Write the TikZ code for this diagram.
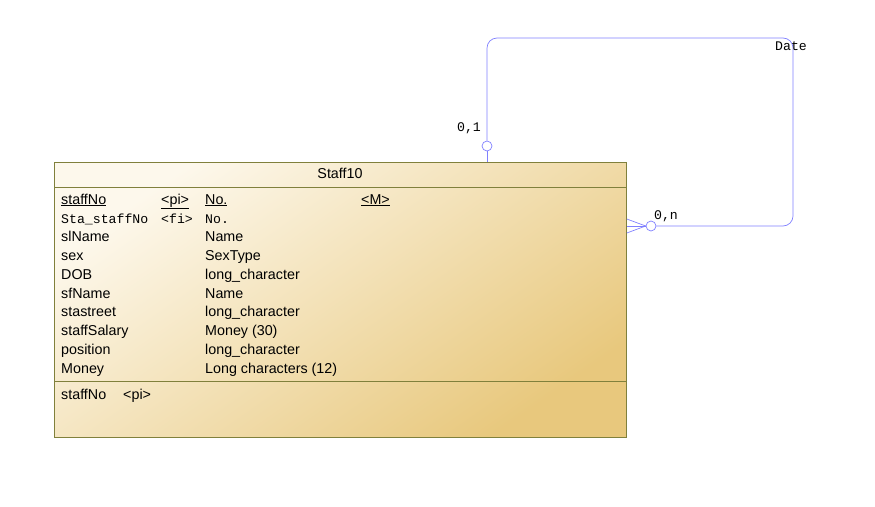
\documentclass[tikz,border=0pt]{standalone}
\usepackage{fontspec}
\setmainfont{Liberation Sans}
\newfontfamily\monofont{Liberation Mono}
\usepackage{xcolor}
\usepackage{tikz}
\usetikzlibrary{positioning,calc}
\definecolor{entityline}{RGB}{128,128,60}
\definecolor{entitylight}{RGB}{253,248,236}
\definecolor{entitydark}{RGB}{232,200,125}
\definecolor{relblue}{RGB}{128,128,255}
\tikzset{
  entitybox/.style={rectangle, draw=entityline, line width=0.8pt,
                    top color=entitylight, bottom color=entitydark, shading angle=35,
                    anchor=north west, inner sep=0pt},
  sepline/.style={draw=entityline, line width=0.8pt},
  attrtext/.style={anchor=west, inner sep=0pt, text height=10pt, text depth=0pt,
                   font=\fontsize{14.3}{16}\selectfont},
  monotext/.style={attrtext, font=\monofont\fontsize{13.2}{16}\selectfont},
  cardtext/.style={inner sep=0pt, font=\monofont\fontsize{13.2}{16}\selectfont},
  relline/.style={draw=relblue, line width=0.7pt},
  optcircle/.style={circle, draw=relblue, line width=0.7pt, fill=white,
                    minimum size=10pt, inner sep=0pt},
}
\begin{document}
\begin{tikzpicture}[x=1pt,y=-1pt]
  \useasboundingbox (0,0) rectangle (875,506);

  % ---- entity ----
  \node[entitybox, minimum width=572pt, minimum height=275pt] (staff10) at (54,162) {};
  \node[attrtext, anchor=center] (title) at (340,173) {Staff10};
  \draw[sepline] ([yshift=-25pt]staff10.north west) -- ([yshift=-25pt]staff10.north east);
  \draw[sepline] ([yshift=56pt]staff10.south west) -- ([yshift=56pt]staff10.south east);

  % ---- attributes ----
  \node[attrtext] (attr0) at (61,199) {\underline{staffNo}};
  \node[attrtext] (key0) at (161,199) {\underline{<pi>}};
  \node[attrtext] (type0) at (205,199) {\underline{No.}};
  \node[attrtext] (mand0) at (361,199) {\underline{<M>}};
  \node[monotext] (attr1) at (61,218) {Sta\_staffNo};
  \node[monotext] (key1) at (161,218) {<fi>};
  \node[monotext] (type1) at (205,218) {No.};
  \foreach \nm/\ty [count=\i from 2] in {slName/Name, sex/SexType, DOB/long\_character,
      sfName/Name, stastreet/long\_character, staffSalary/Money (30),
      position/long\_character, Money/Long characters (12)}{
    \node[attrtext] (attr\i) at (61,{199+18.8*\i}) {\nm};
    \node[attrtext] (type\i) at (205,{199+18.8*\i}) {\ty};
  }

  % ---- identifier ----
  \node[attrtext] (ident) at (61,394) {staffNo};
  \node[attrtext] (identkey) at (123,394) {<pi>};

  % ---- relationship ----
  \node[optcircle] (optOne) at (487,146) {};
  \node[optcircle] (optMany) at (651,226) {};
  \coordinate (loopCorner) at (793,38);
  \coordinate (footMid) at (staff10.east |- optMany);
  \draw[relline] (staff10.north -| optOne) -- (optOne.south);
  \draw[relline, rounded corners=10pt] (optOne.north) |- (loopCorner) |- (optMany.east);
  \draw[relline] (optMany.west) -- ([yshift=7pt]footMid);
  \draw[relline] (optMany.west) -- (footMid);
  \draw[relline] (optMany.west) -- ([yshift=-7pt]footMid);

  \node[cardtext] (cardOne) at (469,128) {0,1};
  \node[cardtext] (cardMany) at (666,216) {0,n};
  \node[cardtext] (relname) at (791,46) {Date};
\end{tikzpicture}
\end{document}
